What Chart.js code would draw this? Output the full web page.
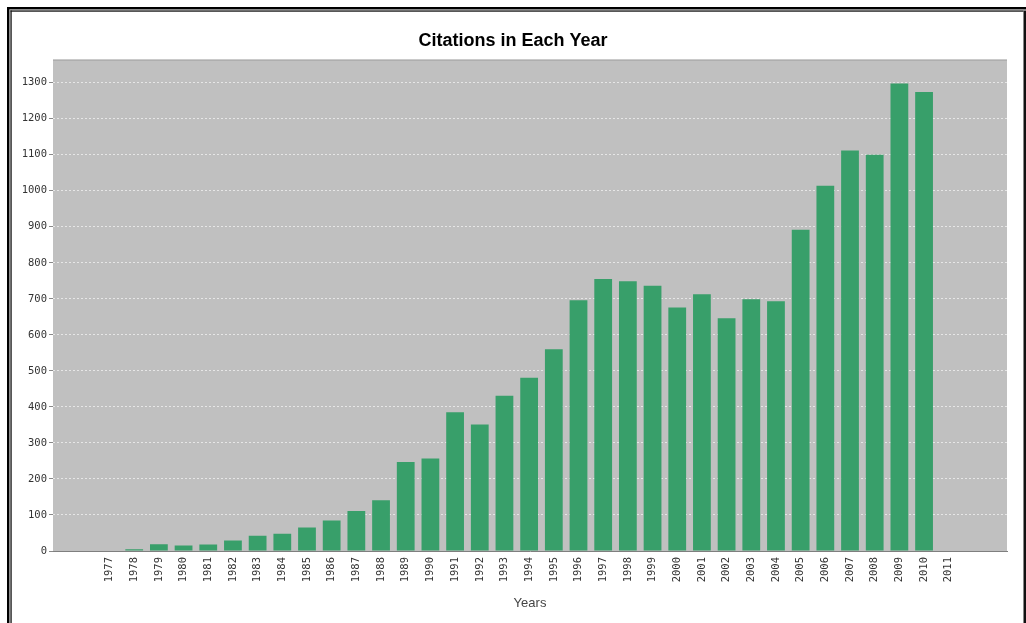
<!DOCTYPE html>
<html>
<head>
<meta charset="utf-8">
<script src="https://cdn.jsdelivr.net/npm/chart.js@4.4.1/dist/chart.umd.min.js"></script>
<style>
html,body{margin:0;padding:0;background:#fff;overflow:hidden}
#wrap{position:relative;width:1026px;height:623px}
</style>
</head>
<body>
<div id="wrap"><canvas id="c"></canvas></div>
<script>
const years = [1977,1978,1979,1980,1981,1982,1983,1984,1985,1986,1987,1988,1989,1990,1991,1992,1993,1994,1995,1996,1997,1998,1999,2000,2001,2002,2003,2004,2005,2006,2007,2008,2009,2010,2011];
const citations = [0,5,19,15,18,29,42,48,65,85,111,141,247,257,385,351,431,481,560,696,755,749,736,676,713,646,699,693,892,1014,1112,1100,1298,1274,0];
const yTickValues = [0,100,200,300,400,500,600,700,800,900,1000,1100,1200,1300];
const chartTitle = 'Citations in Each Year';
const xAxisTitle = 'Years';

const framePlugin = {
  id: 'frame',
  beforeDraw(chart) {
    const ctx = chart.ctx, a = chart.chartArea, W = chart.width, H = chart.height;
    ctx.save();
    ctx.fillStyle = '#ffffff';
    ctx.fillRect(0, 0, W, H);
    ctx.fillStyle = '#000000';
    ctx.fillRect(7, 7, W - 7, 2.5);
    ctx.fillRect(7, 7, 2.5, H - 7);
    ctx.fillStyle = '#9a9a9a';
    ctx.fillRect(9.5, 9.5, W - 12, 1);
    ctx.fillRect(9.5, 9.5, 1, H);
    ctx.fillStyle = '#111111';
    ctx.fillRect(10.5, 10.5, W - 13, 1.2);
    ctx.fillRect(10.5, 10.5, 1.2, H);
    ctx.fillRect(W - 2.5, 10.5, 2.5, H);
    ctx.fillStyle = '#c0c0c0';
    ctx.fillRect(a.left, a.top, a.right - a.left, a.bottom - a.top);
    ctx.strokeStyle = '#a2a2a2';
    ctx.lineWidth = 1;
    ctx.beginPath();
    ctx.moveTo(a.left, a.top + 0.5);
    ctx.lineTo(a.right, a.top + 0.5);
    ctx.stroke();
    ctx.restore();
  }
};

const tickFont = { family: '"DejaVu Sans Mono", monospace', size: 10.5 };

new Chart(document.getElementById('c'), {
  type: 'bar',
  data: {
    datasets: [{
      data: years.map((y, i) => ({ x: y, y: citations[i] })),
      backgroundColor: '#389f6a',
      borderWidth: 0,
      barPercentage: 0.72,
      categoryPercentage: 1
    }]
  },
  options: {
    responsive: true,
    maintainAspectRatio: false,
    animation: false,
    devicePixelRatio: 1,
    layout: { padding: 0 },
    plugins: {
      legend: { display: false },
      tooltip: { enabled: false },
      title: {
        display: true,
        text: chartTitle,
        color: '#000',
        font: { family: '"Liberation Sans", Arial, sans-serif', size: 18, weight: 'bold' },
        padding: { top: 30, bottom: 8 }
      }
    },
    scales: {
      x: {
        type: 'linear',
        min: 1974.71,
        max: 2013.36,
        offset: false,
        afterBuildTicks(s) { s.ticks = years.map(v => ({ value: v })); },
        afterFit(s) { s.height = 72; },
        grid: { display: false, drawTicks: false },
        border: { display: true, color: '#7f7f7f', width: 1 },
        ticks: {
          autoSkip: false, minRotation: 90, maxRotation: 90, padding: 6,
          color: '#333', font: tickFont, callback: v => String(v)
        },
        title: {
          display: true, text: xAxisTitle, color: '#444',
          font: { family: '"Liberation Sans", Arial, sans-serif', size: 13 },
          padding: { top: 0, bottom: 12 }
        }
      },
      y: {
        min: 0,
        max: 1364,
        afterBuildTicks(s) { s.ticks = yTickValues.map(v => ({ value: v })); },
        afterFit(s) { s.width = 53; },
        grid: {
          color: c => (c.tick && c.tick.value === 0) ? 'rgba(0,0,0,0)' : '#e6e6e6',
          lineWidth: 1, tickLength: 4, tickColor: '#888', tickBorderDash: []
        },
        border: { display: false, dash: [2, 2] },
        ticks: { padding: 2, color: '#333', font: tickFont, callback: v => String(v) }
      },
      y2: {
        position: 'right',
        display: true,
        grid: { display: false, drawTicks: false },
        border: { display: false },
        ticks: { display: false },
        afterFit(s) { s.width = 19; }
      }
    }
  },
  plugins: [framePlugin]
});
</script>
</body>
</html>
